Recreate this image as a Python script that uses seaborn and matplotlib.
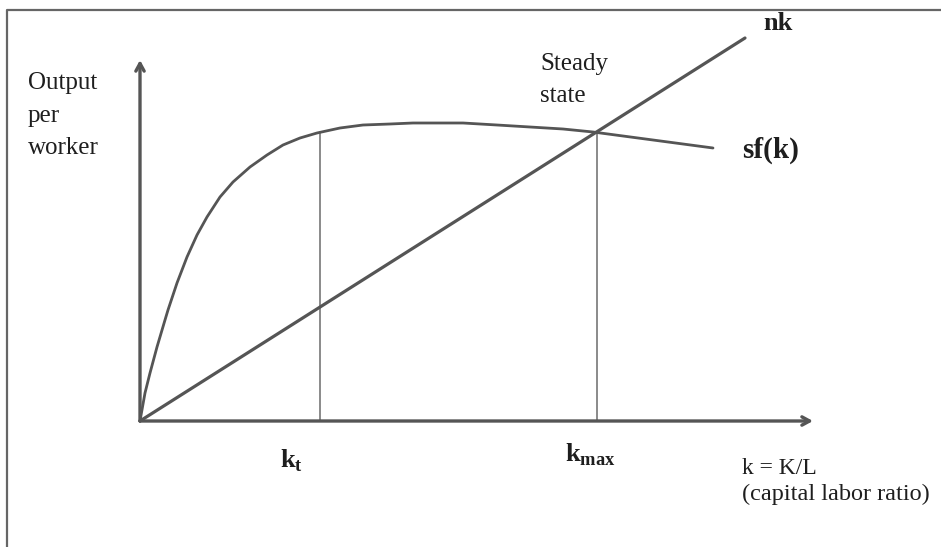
"""Solow model: sf(k) and nk with steady state"""

import numpy as np
import matplotlib
matplotlib.use('Agg')
import matplotlib.pyplot as plt
import seaborn as sns

# Saving curve sf(k) (k on the x-axis, output per worker on y)
sf_k = [0, 5, 10, 17, 25, 28, 37, 47, 57, 67, 80, 93, 110, 127, 143, 160, 177,
        200, 223, 250, 273, 300, 323, 357, 390, 423, 453, 573]
sf_y = [0, 28, 48, 74, 101, 111, 138, 164, 186, 204, 224, 239, 254, 266, 276, 283, 288,
        293, 296, 297, 298, 298, 298, 296, 294, 292, 289, 273]

# Break-even line nk
nk_k = [0, 605]
nk_y = [0, 383]

# Marked capital levels and the curve height there
k_marks = [180, 457]
k_mark_y = [289, 289]
k_labels = [r'$\mathbf{k}_{\mathbf{t}}$', r'$\mathbf{k}_{\mathbf{max}}$']

sns.set_style('white')
plt.rcParams['font.family'] = ['Liberation Serif', 'DejaVu Serif']
plt.rcParams['mathtext.fontset'] = 'custom'
plt.rcParams['mathtext.rm'] = 'Liberation Serif'
plt.rcParams['mathtext.bf'] = 'Liberation Serif:bold'

fig = plt.figure(figsize=(9.41, 5.47), dpi=100)
ax = fig.add_axes([0, 0, 1, 1])
ax.set_xlim(-140, 801)
ax.set_ylim(-126, 421)
ax.axis('off')

line_col = '#555555'
text_col = '#1e1e1e'

# Frame round the picture (left and top only)
ax.plot([-133, -133, 801], [-126, 411, 411], color='#666666', lw=1.6, clip_on=False)

# Axes with arrows
ax.annotate('', xy=(0, 361), xytext=(0, 0),
            arrowprops=dict(arrowstyle='->,head_length=0.55,head_width=0.3', lw=2.4, color=line_col,
                            shrinkA=0, shrinkB=0))
ax.annotate('', xy=(673, 0), xytext=(0, 0),
            arrowprops=dict(arrowstyle='->,head_length=0.55,head_width=0.3', lw=2.4, color=line_col,
                            shrinkA=0, shrinkB=0))

# Vertical guides at k_t and k_max
for k, top in zip(k_marks, k_mark_y):
    ax.plot([k, k], [0, top], color='#8a8a8a', lw=1.4)

# Curves
sns.lineplot(x=sf_k, y=sf_y, ax=ax, color=line_col, lw=2.0, sort=False)
sns.lineplot(x=nk_k, y=nk_y, ax=ax, color=line_col, lw=2.3, sort=False)

# Labels
ax.text(-112, 349, 'Output\nper\nworker', fontsize=18, color=text_col, ha='left', va='top', linespacing=1.62)
ax.text(400, 368, 'Steady\nstate', fontsize=18, color=text_col, ha='left', va='top', linespacing=1.6)
ax.text(623, 409, 'nk', fontsize=19, fontweight='bold', color=text_col, ha='left', va='top')
ax.text(602, 271, 'sf(k)', fontsize=21, fontweight='bold', color=text_col, ha='left', va='center')
ax.text(140, -26, k_labels[0], fontsize=19, color=text_col, ha='left', va='top')
ax.text(425, -21, k_labels[1], fontsize=19, color=text_col, ha='left', va='top')
ax.text(602, -37, 'k = K/L', fontsize=17, color=text_col, ha='left', va='top')
ax.text(602, -63, '(capital labor ratio)', fontsize=17.5, color=text_col, ha='left', va='top')

plt.savefig('out.png', dpi=100)
plt.close()
